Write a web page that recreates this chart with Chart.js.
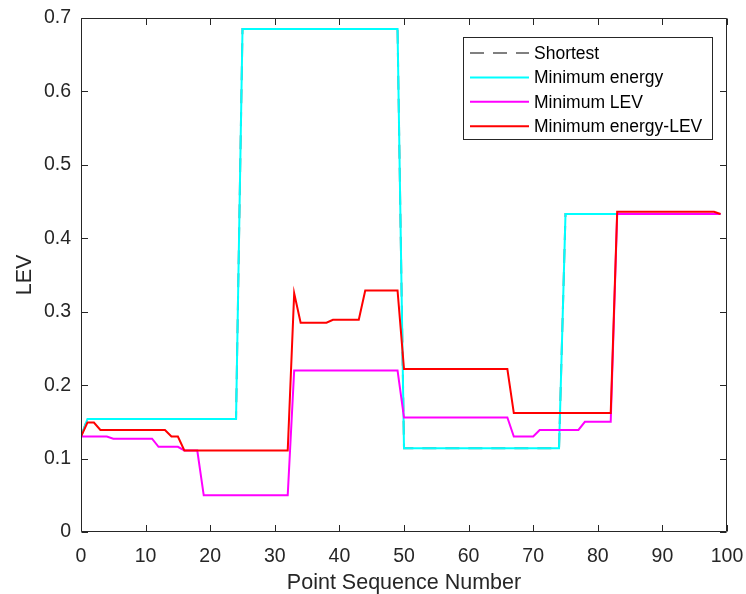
<!DOCTYPE html>
<html><head><meta charset="utf-8">
<script src="https://cdn.jsdelivr.net/npm/chart.js@4/dist/chart.umd.min.js"></script>
<style>html,body{margin:0;padding:0;background:#fff;}canvas{display:block;}</style>
</head><body>
<canvas id="c" width="746" height="594"></canvas>
<script>
const pointSequence = [0,1,2,3,4,5,6,7,8,9,10,11,12,13,14,15,16,17,18,19,20,21,22,23,24,25,26,27,28,29,30,31,32,33,34,35,36,37,38,39,40,41,42,43,44,45,46,47,48,49,50,51,52,53,54,55,56,57,58,59,60,61,62,63,64,65,66,67,68,69,70,71,72,73,74,75,76,77,78,79,80,81,82,83,84,85,86,87,88,89,90,91,92,93,94,95,96,97,98,99];

const shortest = [0.13,
 0.154,0.154,0.154,0.154,0.154,0.154,0.154,0.154,0.154,0.154,0.154,0.154,0.154,0.154,0.154,0.154,0.154,0.154,0.154,0.154,0.154,0.154,0.154,0.154,
 0.685,0.685,0.685,0.685,0.685,0.685,0.685,0.685,0.685,0.685,0.685,0.685,0.685,0.685,0.685,0.685,0.685,0.685,0.685,0.685,0.685,0.685,0.685,0.685,0.685,
 0.114,0.114,0.114,0.114,0.114,0.114,0.114,0.114,0.114,0.114,0.114,0.114,0.114,0.114,0.114,0.114,0.114,0.114,0.114,0.114,0.114,0.114,0.114,0.114,0.114,
 0.433,0.433,0.433,0.433,0.433,0.433,0.433,0.433,0.433,0.433,0.433,0.433,0.433,0.433,0.433,0.433,0.433,0.433,0.433,0.433,0.433,0.433,0.433,0.433,0.433];

const minEnergy = [0.13,
 0.154,0.154,0.154,0.154,0.154,0.154,0.154,0.154,0.154,0.154,0.154,0.154,0.154,0.154,0.154,0.154,0.154,0.154,0.154,0.154,0.154,0.154,0.154,0.154,
 0.685,0.685,0.685,0.685,0.685,0.685,0.685,0.685,0.685,0.685,0.685,0.685,0.685,0.685,0.685,0.685,0.685,0.685,0.685,0.685,0.685,0.685,0.685,0.685,0.685,
 0.114,0.114,0.114,0.114,0.114,0.114,0.114,0.114,0.114,0.114,0.114,0.114,0.114,0.114,0.114,0.114,0.114,0.114,0.114,0.114,0.114,0.114,0.114,0.114,0.114,
 0.433,0.433,0.433,0.433,0.433,0.433,0.433,0.433,0.433,0.433,0.433,0.433,0.433,0.433,0.433,0.433,0.433,0.433,0.433,0.433,0.433,0.433,0.433,0.433,0.433];

const minLEV = [0.13,0.13,0.13,0.13,0.13,
 0.127,0.127,0.127,0.127,0.127,0.127,0.127,
 0.116,0.116,0.116,0.116,
 0.111,0.111,0.111,
 0.05,0.05,0.05,0.05,0.05,0.05,0.05,0.05,0.05,0.05,0.05,0.05,0.05,0.05,
 0.22,0.22,0.22,0.22,0.22,0.22,0.22,0.22,0.22,0.22,0.22,0.22,0.22,0.22,0.22,0.22,0.22,
 0.156,0.156,0.156,0.156,0.156,0.156,0.156,0.156,0.156,0.156,0.156,0.156,0.156,0.156,0.156,0.156,0.156,
 0.13,0.13,0.13,0.13,
 0.139,0.139,0.139,0.139,0.139,0.139,0.139,
 0.15,0.15,0.15,0.15,0.15,
 0.433,0.433,0.433,0.433,0.433,0.433,0.433,0.433,0.433,0.433,0.433,0.433,0.433,0.433,0.433,0.433,0.433];

const minEnergyLEV = [0.13,
 0.149,0.149,
 0.139,0.139,0.139,0.139,0.139,0.139,0.139,0.139,0.139,0.139,0.139,
 0.13,0.13,
 0.111,0.111,0.111,0.111,0.111,0.111,0.111,0.111,0.111,0.111,0.111,0.111,0.111,0.111,0.111,0.111,0.111,
 0.325,
 0.285,0.285,0.285,0.285,0.285,
 0.289,0.289,0.289,0.289,0.289,
 0.329,0.329,0.329,0.329,0.329,0.329,
 0.222,0.222,0.222,0.222,0.222,0.222,0.222,0.222,0.222,0.222,0.222,0.222,0.222,0.222,0.222,0.222,0.222,
 0.162,0.162,0.162,0.162,0.162,0.162,0.162,0.162,0.162,0.162,0.162,0.162,0.162,0.162,0.162,0.162,
 0.436,0.436,0.436,0.436,0.436,0.436,0.436,0.436,0.436,0.436,0.436,0.436,0.436,0.436,0.436,0.436,
 0.433];

const seriesNames = ['Shortest','Minimum energy','Minimum LEV','Minimum energy-LEV'];
const xTicks = [0,10,20,30,40,50,60,70,80,90,100];
const yTicks = [0,0.1,0.2,0.3,0.4,0.5,0.6,0.7];

const FONT = '"Liberation Sans", Arial, Helvetica, sans-serif';
const AX = '#262626';

function pts(ys){ return pointSequence.map((x,i)=>({x:x,y:ys[i]})); }

const boxPlugin = {
  id:'boxPlugin',
  afterDatasetsDraw(chart){
    const {ctx, chartArea:a, scales:{x,y}} = chart;
    ctx.save();
    ctx.strokeStyle = AX; ctx.lineWidth = 1;
    const L=Math.round(a.left)+0.5, R=Math.round(a.right)-0.5, T=Math.round(a.top)+0.5, B=Math.round(a.bottom)-0.5;
    ctx.beginPath();
    ctx.rect(L,T,R-L,B-T);
    const tl = 6.5;
    xTicks.forEach(v=>{ const px=Math.round(x.getPixelForValue(v))+0.5;
      ctx.moveTo(px,B); ctx.lineTo(px,B-tl); ctx.moveTo(px,T); ctx.lineTo(px,T+tl); });
    yTicks.forEach(v=>{ const py=Math.round(y.getPixelForValue(v))+0.5;
      ctx.moveTo(L,py); ctx.lineTo(L+tl,py); ctx.moveTo(R,py); ctx.lineTo(R-tl,py); });
    ctx.stroke();

    // legend
    const lx=463.5, ly=37.5, lw=249, lh=102;
    ctx.fillStyle='#fff';
    ctx.fillRect(lx,ly,lw,lh);
    ctx.strokeStyle=AX; ctx.lineWidth=1;
    ctx.strokeRect(lx,ly,lw,lh);
    ctx.font = '17.5px '+FONT;
    ctx.textBaseline='middle'; ctx.textAlign='left';
    chart.data.datasets.forEach((ds,i)=>{
      const cy = 53 + i*24.4;
      ctx.beginPath();
      ctx.strokeStyle = ds.borderColor; ctx.lineWidth = 2;
      ctx.setLineDash(ds.borderDash || []);
      ctx.moveTo(470,cy); ctx.lineTo(529,cy); ctx.stroke();
      ctx.setLineDash([]);
      ctx.fillStyle = '#000';
      ctx.fillText(ds.label, 534, cy+1);
    });
    ctx.restore();
  }
};

function zeroPad(s){ s.paddingTop=0; s.paddingBottom=0; s.paddingLeft=0; s.paddingRight=0; }

new Chart(document.getElementById('c'), {
  type:'line',
  data:{ datasets:[
    {label:seriesNames[0], data:pts(shortest), borderColor:'#808080', borderDash:[14,9], borderWidth:2, order:4},
    {label:seriesNames[1], data:pts(minEnergy), borderColor:'#00FFFF', borderWidth:2, order:3},
    {label:seriesNames[2], data:pts(minLEV), borderColor:'#FF00FF', borderWidth:2, order:2},
    {label:seriesNames[3], data:pts(minEnergyLEV), borderColor:'#FF0000', borderWidth:2, order:1}
  ]},
  options:{
    responsive:false, animation:false,
    layout:{padding:{left:0,right:19,top:18,bottom:0}},
    elements:{point:{radius:0}, line:{tension:0, borderJoinStyle:'miter'}},
    plugins:{legend:{display:false}, tooltip:{enabled:false}},
    scales:{
      x:{type:'linear', min:0, max:100,
        afterBuildTicks(s){ s.ticks = xTicks.map(v=>({value:v})); },
        afterFit(s){ s.height = 62; zeroPad(s); },
        grid:{display:false, drawTicks:false}, border:{display:false},
        ticks:{color:AX, font:{family:FONT, size:19.5}, padding:13, maxRotation:0, autoSkip:false},
        title:{display:true, text:'Point Sequence Number', color:AX, font:{family:FONT, size:21.5, lineHeight:1}, padding:{top:0,bottom:0}}
      },
      y:{type:'linear', min:0, max:0.7,
        afterBuildTicks(s){ s.ticks = yTicks.map(v=>({value:v})); },
        afterFit(s){ s.width = 81; zeroPad(s); },
        grid:{display:false, drawTicks:false}, border:{display:false},
        ticks:{color:AX, font:{family:FONT, size:19.5}, padding:10, autoSkip:false,
          callback:(v)=>String(Math.round(v*10)/10)},
        title:{display:true, text:'LEV', color:AX, font:{family:FONT, size:21.5}, padding:{top:12,bottom:0}}
      }
    }
  },
  plugins:[boxPlugin]
});
</script>
</body></html>
